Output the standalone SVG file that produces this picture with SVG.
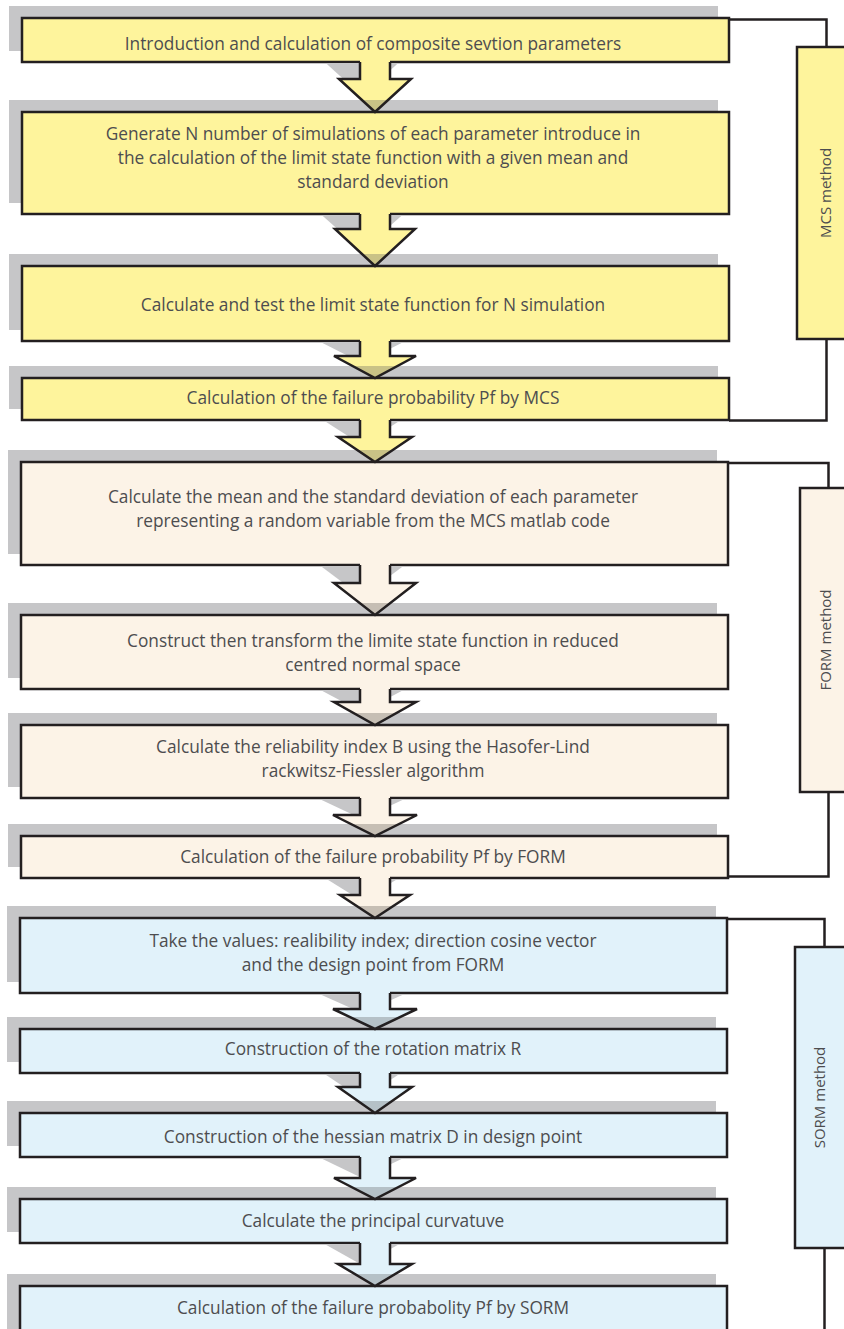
<svg xmlns="http://www.w3.org/2000/svg" width="844" height="1329" viewBox="0 0 844 1329">
<style>
.sh{fill:#c6c6c8}
.bx{stroke:#231f20;stroke-width:2.5}
.y{fill:#fef49c}
.c{fill:#fcf3e7}
.b{fill:#e1f2fa}
.t{font-family:"Open Sans","Liberation Sans",sans-serif;font-size:17.3px;fill:#4d4d4f;text-anchor:middle}
.lt{font-family:"Open Sans","Liberation Sans",sans-serif;font-size:15px;fill:#4d4d4f;text-anchor:middle}
.ln{fill:none;stroke:#231f20;stroke-width:2.5}
.as{fill:#c6c6c8}
.ty{fill:#c9c286}
.tc{fill:#c6beb4}
.tb{fill:#b5c1c7}
</style>
<rect width="844" height="1329" fill="#fff"/>
<g id="n1"><rect class="sh" x="9" y="6" width="709" height="45"/><rect class="bx y" x="22" y="18" width="707" height="44"/><text class="t" x="373" y="50">Introduction and calculation of composite sevtion parameters</text></g>
<g id="n2"><rect class="sh" x="9" y="100" width="709" height="103"/><rect class="bx y" x="22" y="112" width="707" height="102"/><text class="t" x="373" y="140">Generate N number of simulations of each parameter introduce in</text><text class="t" x="373" y="164">the calculation of the limit state function with a given mean and</text><text class="t" x="373" y="188">standard deviation</text></g>
<g id="n3"><rect class="sh" x="9" y="254" width="709" height="76"/><rect class="bx y" x="22" y="266" width="707" height="75"/><text class="t" x="373" y="311">Calculate and test the limit state function for N simulation</text></g>
<g id="n4"><rect class="sh" x="9" y="366" width="709" height="43"/><rect class="bx y" x="22" y="378" width="707" height="42"/><text class="t" x="373" y="404">Calculation of the failure probability Pf by MCS</text></g>
<g id="n5"><rect class="sh" x="8" y="450" width="709" height="104"/><rect class="bx c" x="21" y="462" width="707" height="103"/><text class="t" x="373" y="503">Calculate the mean and the standard deviation of each parameter</text><text class="t" x="373" y="527">representing a random variable from the MCS matlab code</text></g>
<g id="n6"><rect class="sh" x="8" y="603" width="709" height="75"/><rect class="bx c" x="21" y="615" width="707" height="74"/><text class="t" x="373" y="647">Construct then transform the limite state function in reduced</text><text class="t" x="373" y="671">centred normal space</text></g>
<g id="n7"><rect class="sh" x="8" y="713" width="709" height="74"/><rect class="bx c" x="21" y="725" width="707" height="73"/><text class="t" x="373" y="753">Calculate the reliability index B using the Hasofer-Lind</text><text class="t" x="373" y="777">rackwitsz-Fiessler algorithm</text></g>
<g id="n8"><rect class="sh" x="8" y="824" width="709" height="43"/><rect class="bx c" x="21" y="836" width="707" height="42"/><text class="t" x="373" y="863">Calculation of the failure probability Pf by FORM</text></g>
<g id="n9"><rect class="sh" x="7" y="906" width="709" height="76"/><rect class="bx b" x="20" y="918" width="707" height="75"/><text class="t" x="373" y="947">Take the values: realibility index; direction cosine vector</text><text class="t" x="373" y="971">and the design point from FORM</text></g>
<g id="n10"><rect class="sh" x="7" y="1017" width="709" height="45"/><rect class="bx b" x="20" y="1029" width="707" height="44"/><text class="t" x="373" y="1055">Construction of the rotation matrix R</text></g>
<g id="n11"><rect class="sh" x="7" y="1101" width="709" height="45"/><rect class="bx b" x="20" y="1113" width="707" height="44"/><text class="t" x="373" y="1143">Construction of the hessian matrix D in design point</text></g>
<g id="n12"><rect class="sh" x="7" y="1187" width="709" height="45"/><rect class="bx b" x="20" y="1199" width="707" height="44"/><text class="t" x="373" y="1227">Calculate the principal curvatuve</text></g>
<g id="n13"><rect class="sh" x="7" y="1274" width="709" height="70"/><rect class="bx b" x="20" y="1286" width="707" height="70"/><text class="t" x="373" y="1314">Calculation of the failure probabolity Pf by SORM</text></g>
<g id="mcs"><rect class="bx y" x="797" y="47" width="60" height="292"/><text class="lt" transform="translate(831,193) rotate(-90)">MCS method</text></g>
<g id="form"><rect class="bx c" x="800" y="488" width="60" height="304"/><text class="lt" transform="translate(831,640) rotate(-90)">FORM method</text></g>
<g id="sorm"><rect class="bx b" x="795" y="947" width="60" height="301"/><text class="lt" transform="translate(825,1097.5) rotate(-90)">SORM method</text></g>
<g id="connectors">
<polyline class="ln" points="729,19.5 826.5,19.5 826.5,47"/>
<polyline class="ln" points="826.5,339 826.5,420.5 729,420.5"/>
<polyline class="ln" points="728,463 828.5,463 828.5,488"/>
<polyline class="ln" points="828.5,792 828.5,876.5 729,876.5"/>
<polyline class="ln" points="727,919 824.5,919 824.5,947"/>
<polyline class="ln" points="824.5,1248 824.5,1329"/>
<g id="a1"><polygon class="as" points="326,63.3 362,96 398,63.3"/><polygon class="y" points="360,60 360,79 339,79 375,112 411,79 390,79 390,60"/><polygon class="ty" points="362,100 388,100 375,112"/><polyline class="ln" points="360,62 360,79 339,79 375,112 411,79 390,79 390,62"/></g>
<g id="a2"><polygon class="as" points="322,215.3 362,251 402,215.3"/><polygon class="y" points="360,212 360,229 335,229 375,266 415,229 390,229 390,212"/><polygon class="ty" points="362,254 388,254 375,266"/><polyline class="ln" points="360,214 360,229 335,229 375,266 415,229 390,229 390,214"/></g>
<g id="a3"><polygon class="as" points="321,342.3 362,363 403,342.3"/><polygon class="y" points="360,339 360,356 334,356 375,378 416,356 390,356 390,339"/><polygon class="ty" points="352.6,366 397.4,366 375,378"/><polyline class="ln" points="360,341 360,356 334,356 375,378 416,356 390,356 390,341"/></g>
<g id="a4"><polygon class="as" points="325,421.3 362,445 399,421.3"/><polygon class="y" points="360,418 360,437 338,437 375,462 412,437 390,437 390,418"/><polygon class="ty" points="357.2,450 392.8,450 375,462"/><polyline class="ln" points="360,420 360,437 338,437 375,462 412,437 390,437 390,420"/></g>
<g id="a5"><polygon class="as" points="321,566.3 362,597 403,566.3"/><polygon class="c" points="360,563 360,583 334,583 375,615 416,583 390,583 390,563"/><polygon class="tc" points="359.6,603 390.4,603 375,615"/><polyline class="ln" points="360,565 360,583 334,583 375,615 416,583 390,583 390,565"/></g>
<g id="a6"><polygon class="as" points="321,690.3 362,712 403,690.3"/><polygon class="c" points="360,687 360,702 334,702 375,725 416,702 390,702 390,687"/><polygon class="tc" points="353.6,713 396.4,713 375,725"/><polyline class="ln" points="360,689 360,702 334,702 375,725 416,702 390,702 390,689"/></g>
<g id="a7"><polygon class="as" points="320,799.3 362,819 404,799.3"/><polygon class="c" points="360,796 360,815 333,815 375,836 417,815 390,815 390,796"/><polygon class="tc" points="351,824 399,824 375,836"/><polyline class="ln" points="360,798 360,815 333,815 375,836 417,815 390,815 390,798"/></g>
<g id="a8"><polygon class="as" points="327,879.3 362,901 397,879.3"/><polygon class="c" points="360,876 360,895 340,895 375,918 410,895 390,895 390,876"/><polygon class="tc" points="356.7,906 393.3,906 375,918"/><polyline class="ln" points="360,878 360,895 340,895 375,918 410,895 390,895 390,878"/></g>
<g id="a9"><polygon class="as" points="320,994.3 362,1013 404,994.3"/><polygon class="b" points="360,991 360,1009 333,1009 375,1029 417,1009 390,1009 390,991"/><polygon class="tb" points="349.8,1017 400.2,1017 375,1029"/><polyline class="ln" points="360,993 360,1009 333,1009 375,1029 417,1009 390,1009 390,993"/></g>
<g id="a10"><polygon class="as" points="325,1074.3 362,1099 399,1074.3"/><polygon class="b" points="360,1071 360,1087 338,1087 375,1113 412,1087 390,1087 390,1071"/><polygon class="tb" points="357.9,1101 392.1,1101 375,1113"/><polyline class="ln" points="360,1073 360,1087 338,1087 375,1113 412,1087 390,1087 390,1073"/></g>
<g id="a11"><polygon class="as" points="321,1158.3 362,1178 403,1158.3"/><polygon class="b" points="360,1155 360,1178 334,1178 375,1199 416,1178 390,1178 390,1155"/><polygon class="tb" points="351.6,1187 398.4,1187 375,1199"/><polyline class="ln" points="360,1157 360,1178 334,1178 375,1199 416,1178 390,1178 390,1157"/></g>
<g id="a12"><polygon class="as" points="325,1244.3 362,1265 399,1244.3"/><polygon class="b" points="360,1241 360,1264 338,1264 375,1286 412,1264 390,1264 390,1241"/><polygon class="tb" points="354.8,1274 395.2,1274 375,1286"/><polyline class="ln" points="360,1243 360,1264 338,1264 375,1286 412,1264 390,1264 390,1243"/></g>
</g>
</svg>
